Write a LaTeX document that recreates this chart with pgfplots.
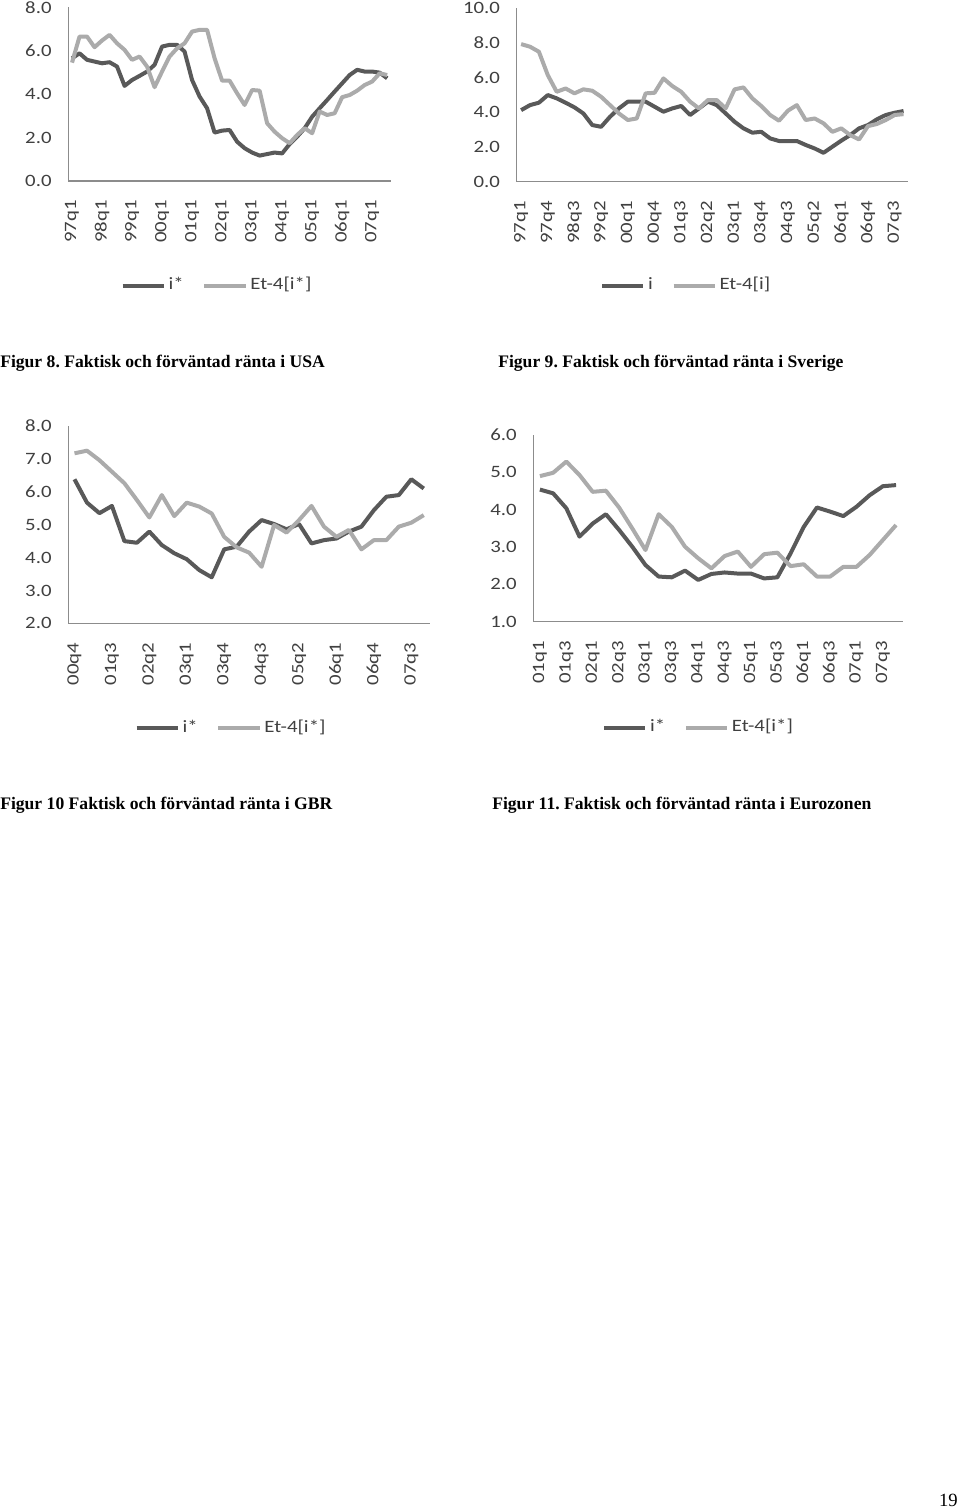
\documentclass[border=0pt]{standalone}
\usepackage{pgfplots}
\usepackage{pgfplotstable}
\pgfplotsset{compat=1.18}
\usepackage{fontspec}
\setmainfont{Liberation Serif}
\newfontfamily\chartfont[FakeStretch=1.2]{Carlito}
\definecolor{darkser}{HTML}{595959}
\definecolor{lightser}{HTML}{ABABAB}
\definecolor{axisgray}{HTML}{8C8C8C}
\definecolor{labelgray}{HTML}{404040}

\pgfplotstableread{
x i e
0 5.65 5.45
1 5.88 6.65
2 5.58 6.65
3 5.50 6.16
4 5.42 6.47
5 5.47 6.73
6 5.27 6.34
7 4.38 6.04
8 4.65 5.58
9 4.84 5.73
10 5.04 5.27
11 5.35 4.32
12 6.19 5.04
13 6.27 5.73
14 6.27 6.11
15 5.96 6.34
16 4.65 6.88
17 3.89 6.96
18 3.35 6.96
19 2.23 5.65
20 2.32 4.62
21 2.35 4.62
22 1.81 4.04
23 1.51 3.50
24 1.31 4.19
25 1.17 4.16
26 1.24 2.66
27 1.31 2.27
28 1.27 1.97
29 1.70 1.74
30 2.04 2.12
31 2.43 2.43
32 2.96 2.20
33 3.35 3.20
34 3.73 3.04
35 4.12 3.12
36 4.50 3.86
37 4.88 3.96
38 5.12 4.16
39 5.04 4.42
40 5.04 4.58
41 4.99 4.96
42 4.73 4.88
}\usa

\pgfplotstableread{
x i e
0 4.13 7.94
1 4.42 7.79
2 4.56 7.50
3 5.00 6.15
4 4.81 5.19
5 4.56 5.38
6 4.29 5.10
7 3.94 5.33
8 3.27 5.25
9 3.17 4.90
10 3.75 4.42
11 4.23 3.94
12 4.62 3.56
13 4.62 3.65
14 4.62 5.10
15 4.33 5.13
16 4.04 5.96
17 4.23 5.52
18 4.37 5.19
19 3.85 4.62
20 4.23 4.23
21 4.62 4.71
22 4.42 4.71
23 3.94 4.23
24 3.46 5.33
25 3.08 5.44
26 2.83 4.81
27 2.88 4.37
28 2.50 3.85
29 2.35 3.52
30 2.35 4.10
31 2.35 4.42
32 2.12 3.56
33 1.92 3.65
34 1.67 3.37
35 2.02 2.88
36 2.37 3.08
37 2.69 2.69
38 3.08 2.44
39 3.27 3.21
40 3.60 3.33
41 3.85 3.56
42 3.98 3.85
43 4.08 3.90
}\swe

\pgfplotstableread{
x i e
0 6.38 7.17
1 5.67 7.25
2 5.35 6.96
3 5.57 6.61
4 4.50 6.26
5 4.45 5.75
6 4.79 5.22
7 4.38 5.90
8 4.13 5.26
9 3.95 5.67
10 3.62 5.55
11 3.40 5.34
12 4.25 4.63
13 4.33 4.31
14 4.79 4.15
15 5.14 3.72
16 5.02 4.99
17 4.86 4.76
18 5.02 5.14
19 4.43 5.57
20 4.53 4.94
21 4.58 4.63
22 4.79 4.84
23 4.94 4.25
24 5.44 4.53
25 5.85 4.53
26 5.90 4.94
27 6.38 5.06
28 6.10 5.29
}\gbr

\pgfplotstableread{
x i e
0 4.54 4.90
1 4.44 4.99
2 4.04 5.29
3 3.28 4.93
4 3.63 4.48
5 3.88 4.51
6 3.46 4.06
7 3.01 3.50
8 2.52 2.92
9 2.21 3.88
10 2.19 3.54
11 2.37 3.01
12 2.12 2.70
13 2.28 2.43
14 2.32 2.76
15 2.29 2.88
16 2.29 2.47
17 2.16 2.81
18 2.19 2.85
19 2.83 2.49
20 3.54 2.54
21 4.06 2.21
22 3.95 2.21
23 3.83 2.47
24 4.08 2.47
25 4.39 2.79
26 4.63 3.19
27 4.66 3.59
}\euro

\pgfplotsset{
  excelchart/.style={
    scale only axis,
    axis x line=bottom, axis y line=left,
    axis line style={-, draw=axisgray, line width=0.8pt},
    major tick length=0pt,
    tick label style={font=\chartfont\fontsize{13pt}{15pt}\selectfont, text=labelgray},
    yticklabel style={/pgf/number format/.cd, fixed, fixed zerofill, precision=1, assume math mode=true},
    yticklabel shift=9pt,
    xticklabel style={rotate=90, anchor=east},
    xticklabel shift=11pt,
    clip=false,
    legend style={draw=none, fill=none, legend columns=2, anchor=center,
      font=\chartfont\fontsize{13pt}{15pt}\selectfont, text=labelgray,
      nodes={text height=9pt, text depth=3pt},
      /tikz/every even column/.append style={column sep=12pt}},
    legend image code/.code={\draw[#1] (0pt,0pt) -- (31pt,0pt);},
  },
  darkline/.style={color=darkser, line width=3pt, line join=round, no markers},
  lightline/.style={color=lightser, line width=3pt, line join=round, no markers},
}

\begin{document}
\frenchspacing
\begin{tikzpicture}
\useasboundingbox (0pt,0pt) rectangle (720pt,-1131.75pt);

% Figur 8 USA
\begin{axis}[excelchart, at={(51.2pt,-135.75pt)}, anchor=south west,
  width=242pt, height=130.3pt,
  xmin=-0.5, xmax=42.5, ymin=0, ymax=8, ytick={0,2,4,6,8},
  xtick={0,4,...,40},
  xticklabels={97q1,98q1,99q1,00q1,01q1,02q1,03q1,04q1,05q1,06q1,07q1},
  legend style={at={(0.462,-0.604)}}]
\addplot[darkline] table[x=x,y=i] {\usa};
\addlegendentry{i*}
\addplot[lightline] table[x=x,y=e] {\usa};
\addlegendentry{Et-4[i*]}
\end{axis}

% Figur 9 Sverige
\begin{axis}[excelchart, at={(387.5pt,-136.3pt)}, anchor=south west,
  width=293.5pt, height=130pt,
  xmin=-0.5, xmax=43.5, ymin=0, ymax=10, ytick={0,2,4,6,8,10},
  xtick={0,3,...,42},
  xticklabels={97q1,97q4,98q3,99q2,00q1,00q4,01q3,02q2,03q1,03q4,04q3,05q2,06q1,06q4,07q3},
  legend style={at={(0.434,-0.601)}}]
\addplot[darkline] table[x=x,y=i] {\swe};
\addlegendentry{i}
\addplot[lightline] table[x=x,y=e] {\swe};
\addlegendentry{Et-4[i]}
\end{axis}

% Figur 10 GBR
\begin{axis}[excelchart, at={(51.2pt,-467.5pt)}, anchor=south west,
  width=271.3pt, height=148pt,
  xmin=-0.5, xmax=28.5, ymin=2, ymax=8, ytick={2,3,4,5,6,7,8},
  xtick={0,3,...,27},
  xticklabels={00q4,01q3,02q2,03q1,03q4,04q3,05q2,06q1,06q4,07q3},
  legend style={at={(0.451,-0.531)}}]
\addplot[darkline] table[x=x,y=i] {\gbr};
\addlegendentry{i*}
\addplot[lightline] table[x=x,y=e] {\gbr};
\addlegendentry{Et-4[i*]}
\end{axis}

% Figur 11 Eurozonen
\begin{axis}[excelchart, at={(400pt,-466.3pt)}, anchor=south west,
  width=277pt, height=140pt,
  xmin=-0.5, xmax=27.5, ymin=1, ymax=6, ytick={1,2,3,4,5,6},
  xtick={0,2,...,26},
  xticklabels={01q1,01q3,02q1,02q3,03q1,03q3,04q1,04q3,05q1,05q3,06q1,06q3,07q1,07q3},
  legend style={at={(0.448,-0.569)}}]
\addplot[darkline] table[x=x,y=i] {\euro};
\addlegendentry{i*}
\addplot[lightline] table[x=x,y=e] {\euro};
\addlegendentry{Et-4[i*]}
\end{axis}

\begin{scope}[every node/.style={anchor=base west, inner sep=0pt, font=\bfseries\fontsize{13.2pt}{15pt}\selectfont}]
\node at (0pt,-275.8pt) {Figur 8. Faktisk och förväntad ränta i USA};
\node at (373.5pt,-275.8pt) {Figur 9. Faktisk och förväntad ränta i Sverige};
\node at (0pt,-607pt) {Figur 10 Faktisk och förväntad ränta i GBR};
\node at (369pt,-607pt) {Figur 11. Faktisk och förväntad ränta i Eurozonen};
\end{scope}
\node[anchor=base east, inner sep=0pt, font=\fontsize{14pt}{16pt}\selectfont] at (718.5pt,-1130pt) {19};
\end{tikzpicture}
\end{document}
